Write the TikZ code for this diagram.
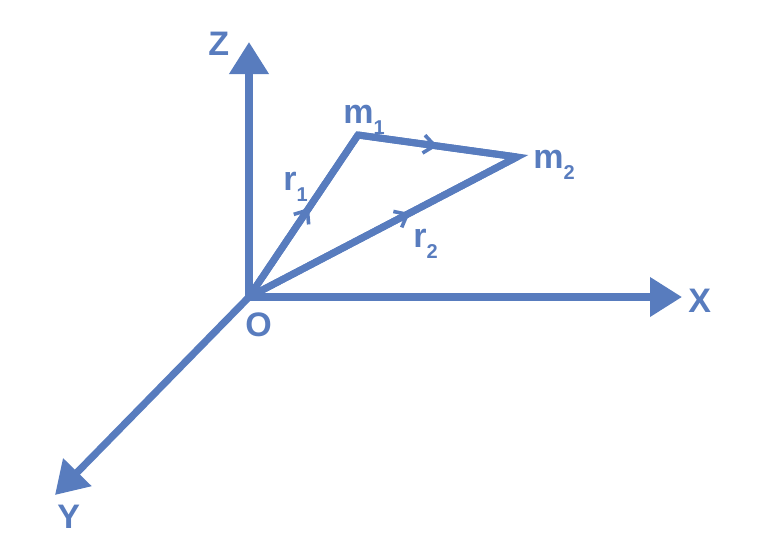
\documentclass[tikz,border=0pt]{standalone}
\usepackage{fontspec}
\setmainfont{Liberation Sans}
\usetikzlibrary{arrows.meta,decorations.markings}
\definecolor{vecblue}{RGB}{88,124,190}
\newcommand{\lowidx}[1]{\raisebox{-5.5pt}{\fontsize{10}{10}\selectfont #1}}

\begin{document}
\begin{tikzpicture}[x=0.5pt, y=-0.5pt, axis/.style={vecblue, line width=3.6pt, -{Triangle[length=16pt,width=19pt]}}, vec/.style={vecblue, line width=3.5pt, line join=miter}, midarrow/.style={postaction={decorate}, decoration={markings, mark=at position #1 with {\arrow[vecblue, line width=1.8pt]{Straight Barb[length=5.5pt,width=9pt]}}}}, lbl/.style={text=vecblue, font=\bfseries\fontsize{17}{17}\selectfont, inner sep=0pt, anchor=base west}]

        \useasboundingbox (0,0) rectangle (783,547);

        \coordinate (O) at (249,297);
        \coordinate (zend) at (249,42);
        \coordinate (xend) at (682,297);
        \coordinate (yend) at (55,495);
        \coordinate (m1) at (358,135);
        \coordinate (m2) at (517,157);

        \draw[axis] (O) -- (zend);
        \draw[axis] (O) -- (xend);
        \draw[axis] (O) -- (yend);

        \draw[vec] (O) -- (m1) -- (m2) -- (O);
        \draw[vec, midarrow=0.55] (O) -- (m1);
        \draw[vec, midarrow=0.5] (m1) -- (m2);
        \draw[vec, midarrow=0.6] (O) -- (m2);

        \node[lbl] (zlbl) at (208,55) {Z};
        \node[lbl] (xlbl) at (688,312) {X};
        \node[lbl] (ylbl) at (57,528) {Y};
        \node[lbl] (olbl) at (245,336) {O};
        \node[lbl] (m1lbl) at (343,123) {m\lowidx{1}};
        \node[lbl] (m2lbl) at (533,168) {m\lowidx{2}};
        \node[lbl] (r1lbl) at (283,190) {r\lowidx{1}};
        \node[lbl] (r2lbl) at (413,247) {r\lowidx{2}};

    \end{tikzpicture}
\end{document}
